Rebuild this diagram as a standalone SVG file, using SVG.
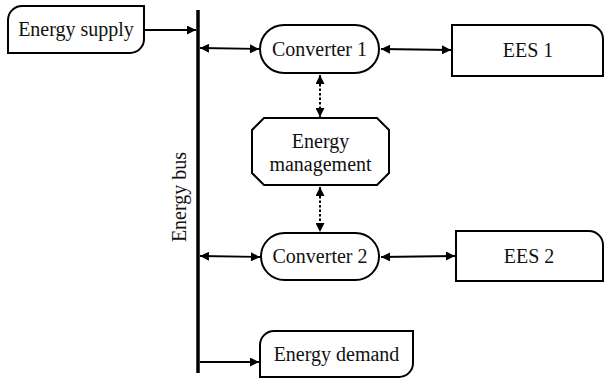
<svg xmlns="http://www.w3.org/2000/svg" width="604" height="379" viewBox="0 0 604 379">
<defs>
<marker id="ah" viewBox="0 0 10 10" refX="10" refY="5" markerWidth="11" markerHeight="9" markerUnits="userSpaceOnUse" orient="auto-start-reverse">
<path d="M0,0 L10,5 L0,10 Z" fill="#000"/>
</marker>
</defs>
<style>
.box{fill:#fff;stroke:#000;stroke-width:2}
.t{font-family:"Liberation Serif","Times New Roman",serif;font-size:20px;fill:#111;text-anchor:middle}
.c{stroke:#000;stroke-width:1.8;fill:none}
.d{stroke:#000;stroke-width:2;fill:none;stroke-dasharray:2.5,2}
</style>
<rect width="604" height="379" fill="#fff"/>
<g id="connectors">
<line x1="198" y1="10" x2="198" y2="373" stroke="#000" stroke-width="3.5"/>
<line class="c" x1="145" y1="30" x2="196" y2="30" marker-end="url(#ah)"/>
<line class="c" x1="200" y1="48" x2="259" y2="49" marker-start="url(#ah)" marker-end="url(#ah)"/>
<line class="c" x1="381" y1="49" x2="451" y2="50" marker-start="url(#ah)" marker-end="url(#ah)"/>
<line class="d" x1="320" y1="75" x2="320" y2="117" marker-start="url(#ah)" marker-end="url(#ah)"/>
<line class="d" x1="320" y1="187" x2="320" y2="232" marker-start="url(#ah)" marker-end="url(#ah)"/>
<line class="c" x1="200" y1="256" x2="260" y2="257" marker-start="url(#ah)" marker-end="url(#ah)"/>
<line class="c" x1="381" y1="257" x2="455" y2="256" marker-start="url(#ah)" marker-end="url(#ah)"/>
<line class="c" x1="200" y1="362" x2="259" y2="362" marker-end="url(#ah)"/>
</g>
<g id="energy-supply">
<path class="box" d="M22,6 H144 V39 A14,14 0 0 1 130,53 H8 V20 A14,14 0 0 1 22,6 Z"/>
<text class="t" x="76" y="36">Energy supply</text>
</g>
<g id="energy-bus">
<text class="t" transform="translate(186,197) rotate(-90)">Energy bus</text>
</g>
<g id="converter-1">
<rect class="box" x="260" y="25" width="119" height="48" rx="24" ry="24"/>
<text class="t" x="319.5" y="56">Converter 1</text>
</g>
<g id="ees-1">
<path class="box" d="M452,25 H589 A14,14 0 0 1 603,39 V76 H452 Z"/>
<text class="t" x="528" y="57">EES 1</text>
</g>
<g id="energy-management">
<path class="box" d="M264,118 H377 L389,130 V173 L377,185 H264 L252,173 V130 Z"/>
<text class="t" x="320.5" y="148">Energy</text>
<text class="t" x="320.5" y="171">management</text>
</g>
<g id="converter-2">
<rect class="box" x="261" y="233" width="118" height="47" rx="23.5" ry="23.5"/>
<text class="t" x="320" y="263">Converter 2</text>
</g>
<g id="ees-2">
<path class="box" d="M456,231 H589 A14,14 0 0 1 603,245 V281 H456 Z"/>
<text class="t" x="529" y="263">EES 2</text>
</g>
<g id="energy-demand">
<path class="box" d="M274,331 H413 V363 A14,14 0 0 1 399,377 H260 V345 A14,14 0 0 1 274,331 Z"/>
<text class="t" x="336.5" y="361">Energy demand</text>
</g>
</svg>
